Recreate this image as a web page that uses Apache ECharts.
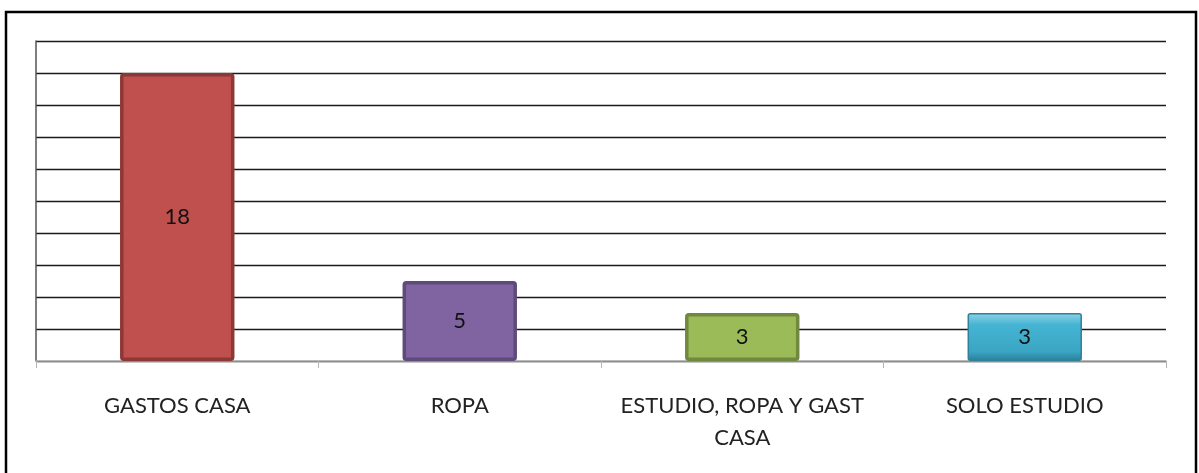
<!DOCTYPE html>
<html>
<head>
<meta charset="utf-8">
<script src="https://cdn.jsdelivr.net/npm/echarts@6/dist/echarts.min.js"></script>
<style>
  html, body { margin: 0; padding: 0; background: #fff; }
  #chart { width: 1199px; height: 473px; }
</style>
</head>
<body>
<div id="chart"></div>
<script>
const categories = ['GASTOS CASA', 'ROPA', 'ESTUDIO, ROPA Y GAST\nCASA', 'SOLO ESTUDIO']
const values = [18, 5, 3, 3]
const fills = ['#C0504D', '#8064A2', '#9BBB59', '#4BACC6']
const borders = ['#8C3836', '#5F4B79', '#71893F', '#2E8199']

const chart = echarts.init(document.getElementById('chart'))

const font = 'Lato, "Open Sans", sans-serif'

chart.setOption({
  animation: false,
  graphic: [{
    type: 'rect',
    shape: { x: 6, y: 12, width: 1190, height: 600 },
    style: { fill: 'none', stroke: '#000', lineWidth: 2.5 },
    silent: true
  }],
  grid: { left: 36, right: 33, top: 41, bottom: 112 },
  xAxis: {
    type: 'category',
    data: categories,
    axisLine: { lineStyle: { color: '#b5b5b5', width: 1.5 } },
    axisTick: { show: true, interval: 0, length: 7, lineStyle: { color: '#b5b5b5' } },
    axisLabel: {
      interval: 0,
      hideOverlap: false,
      color: '#222',
      fontSize: 22,
      fontFamily: font,
      margin: 29,
      lineHeight: 32
    }
  },
  yAxis: {
    type: 'value',
    min: 0,
    max: 20,
    interval: 2,
    axisLine: { show: true, lineStyle: { color: '#555', width: 1.5 } },
    axisTick: { show: false },
    axisLabel: { show: false },
    splitLine: { lineStyle: { color: '#1a1a1a', width: 1.3 } }
  },
  series: [{
    type: 'bar',
    barWidth: '40.5%',
    data: values.map((v, i) => ({
      value: v,
      itemStyle: {
        color: i === 3
          ? new echarts.graphic.LinearGradient(0, 0, 0, 1, [
              { offset: 0, color: '#8FD3E6' },
              { offset: 0.25, color: '#45B3D2' },
              { offset: 0.8, color: '#3AA6C4' },
              { offset: 1, color: '#2A7F98' }
            ])
          : fills[i],
        borderColor: borders[i],
        borderWidth: i === 3 ? 1.5 : 3.5,
        borderRadius: 2
      }
    })),
    label: {
      show: true,
      position: 'inside',
      color: '#111',
      fontSize: 22,
      fontFamily: font
    }
  }]
})
</script>
</body>
</html>
